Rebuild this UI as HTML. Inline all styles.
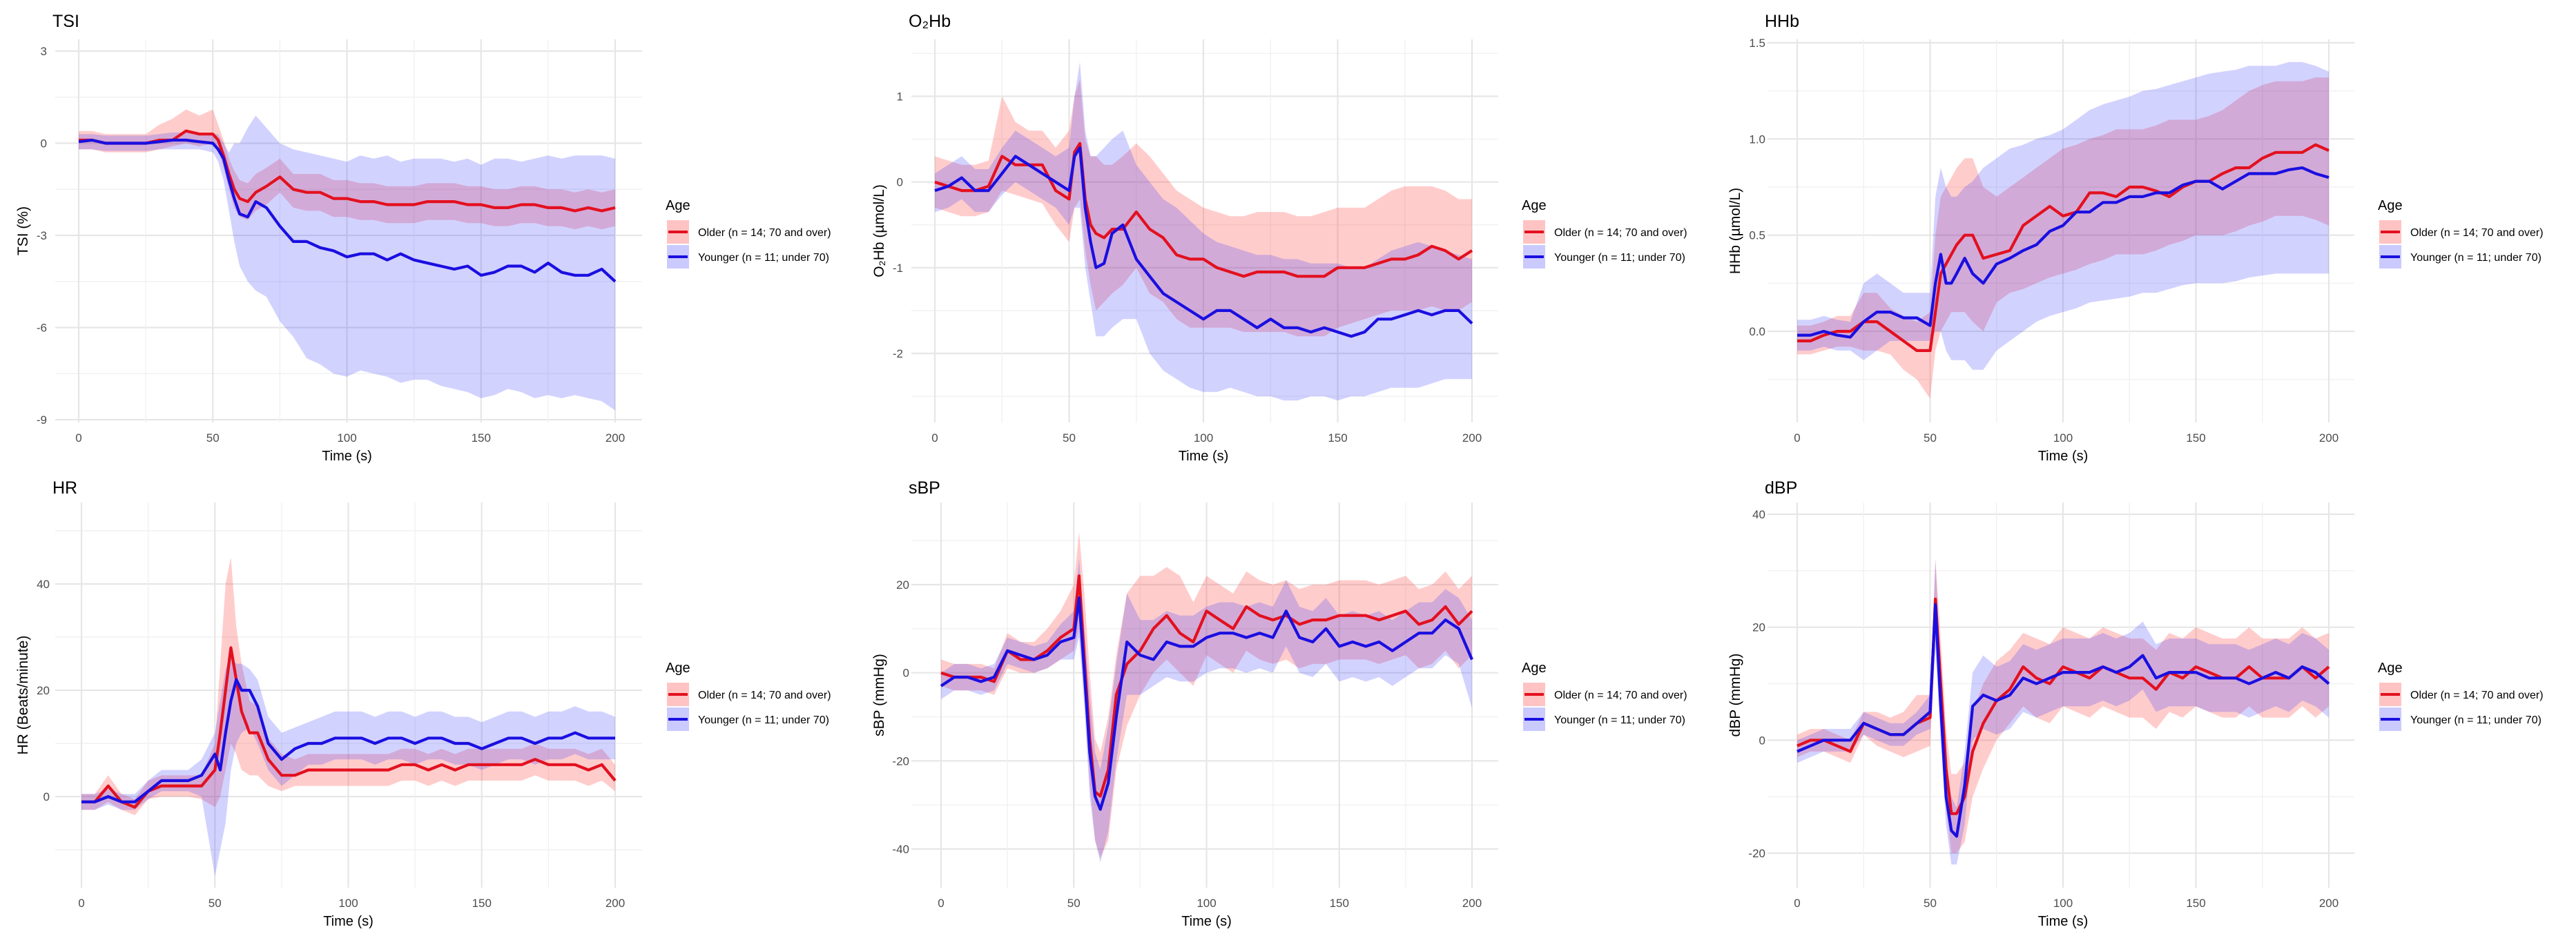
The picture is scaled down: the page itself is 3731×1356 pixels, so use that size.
<!DOCTYPE html>
<html><head><meta charset="utf-8"><style>
html,body{margin:0;padding:0;background:#fff;}
svg{display:block;font-family:"Liberation Sans",Arial,sans-serif;}
</style></head><body>
<svg id="chart" width="3731" height="1356" viewBox="0 0 3731 1356" xmlns="http://www.w3.org/2000/svg"></svg>
<script>
const times=[0,5,10,15,20,25,30,35,40,45,50,52,54,56,58,60,63,66,70,75,80,85,90,95,100,105,110,115,120,125,130,135,140,145,150,155,160,165,170,175,180,185,190,195,200];

const tsiOlderMean=[0.1,0.1,0,0,0,0,0.1,0.1,0.4,0.3,0.3,0.1,-0.4,-1.0,-1.5,-1.8,-1.9,-1.6,-1.4,-1.1,-1.5,-1.6,-1.6,-1.8,-1.8,-1.9,-1.9,-2.0,-2.0,-2.0,-1.9,-1.9,-1.9,-2.0,-2.0,-2.1,-2.1,-2.0,-2.0,-2.1,-2.1,-2.2,-2.1,-2.2,-2.1];
const tsiOlderLo=[-0.2,-0.2,-0.3,-0.3,-0.3,-0.3,-0.2,-0.1,0.0,-0.1,0.0,-0.2,-0.8,-1.5,-2.1,-2.4,-2.5,-2.2,-2.0,-1.6,-2.1,-2.2,-2.2,-2.4,-2.4,-2.5,-2.5,-2.6,-2.6,-2.6,-2.5,-2.5,-2.5,-2.6,-2.6,-2.7,-2.7,-2.6,-2.6,-2.7,-2.7,-2.8,-2.7,-2.8,-2.7];
const tsiOlderHi=[0.4,0.4,0.3,0.3,0.3,0.3,0.6,0.8,1.1,0.9,1.1,0.6,0.1,-0.5,-0.9,-1.2,-1.3,-1.0,-0.8,-0.5,-1.0,-1.0,-1.0,-1.2,-1.2,-1.3,-1.3,-1.4,-1.4,-1.4,-1.3,-1.3,-1.3,-1.4,-1.4,-1.5,-1.5,-1.4,-1.4,-1.5,-1.5,-1.6,-1.5,-1.6,-1.5];
const tsiYoungerMean=[0.05,0.1,0,0,0,0,0.05,0.1,0.1,0.05,0,-0.2,-0.5,-1.2,-1.8,-2.3,-2.4,-1.9,-2.1,-2.7,-3.2,-3.2,-3.4,-3.5,-3.7,-3.6,-3.6,-3.8,-3.6,-3.8,-3.9,-4.0,-4.1,-4.0,-4.3,-4.2,-4.0,-4.0,-4.2,-3.9,-4.2,-4.3,-4.3,-4.1,-4.5];
const tsiYoungerLo=[-0.2,-0.2,-0.25,-0.25,-0.25,-0.25,-0.2,-0.2,-0.2,-0.2,-0.3,-0.6,-1.2,-2.2,-3.2,-4.0,-4.5,-4.8,-5.0,-5.8,-6.3,-7.0,-7.2,-7.5,-7.6,-7.4,-7.5,-7.6,-7.8,-7.7,-7.7,-7.9,-8.0,-8.1,-8.3,-8.2,-8.0,-8.1,-8.3,-8.2,-8.3,-8.2,-8.3,-8.4,-8.7];
const tsiYoungerHi=[0.3,0.3,0.25,0.25,0.25,0.25,0.3,0.35,0.35,0.3,0.3,0.3,0.0,-0.3,0.0,0.0,0.5,0.9,0.5,0.0,-0.2,-0.3,-0.4,-0.5,-0.6,-0.4,-0.5,-0.4,-0.6,-0.5,-0.5,-0.5,-0.6,-0.5,-0.7,-0.5,-0.5,-0.6,-0.5,-0.4,-0.5,-0.4,-0.4,-0.4,-0.5];

const hrOlderMean=[-1,-1,2,-1,-2,1,2,2,2,2,5,12,20,28,22,16,12,12,7,4,4,5,5,5,5,5,5,5,6,6,5,6,5,6,6,6,6,6,7,6,6,6,5,6,3];
const hrOlderLo=[-2.5,-2.5,-1,-2.5,-3.5,-0.5,0,0,0,-0.5,-2,0,5,10,8,5,4,4,2,1,2,2,2,2,2,2,2,2,3,3,2,3,2,3,3,3,3,3,4,3,3,3,2,3,1];
const hrOlderHi=[0.5,0.5,4,0.5,-0.5,3,4,4,4,4,10,25,40,45,32,25,18,17,11,8,7,8,8,8,8,8,8,8,9,9,8,9,8,9,9,9,9,9,10,9,9,9,8,9,6];
const hrYoungerMean=[-1,-1,0,-1,-1,1,3,3,3,4,8,5,12,18,22,20,20,17,10,7,9,10,10,11,11,11,10,11,11,10,11,11,10,10,9,10,11,11,10,11,11,12,11,11,11];
const hrYoungerLo=[-2.5,-2.5,-1.5,-2.5,-2.5,-0.5,1,1,1,0,-15,-10,-5,5,10,12,13,10,5,2,4,6,6,7,7,7,6,7,7,6,7,7,6,6,5,6,7,7,6,7,7,8,7,7,7];
const hrYoungerHi=[0.5,0.5,1.5,0.5,0.5,3,5,5,5,7,12,18,24,26,25,25,24,22,15,12,13,14,15,16,16,16,15,16,16,15,16,16,15,15,14,15,16,16,15,16,16,17,16,16,15];

const o2OlderMean=[0,-0.05,-0.1,-0.1,-0.05,0.3,0.2,0.2,0.2,-0.1,-0.2,0.35,0.45,-0.2,-0.5,-0.6,-0.65,-0.55,-0.55,-0.35,-0.55,-0.65,-0.85,-0.9,-0.9,-1.0,-1.05,-1.1,-1.05,-1.05,-1.05,-1.1,-1.1,-1.1,-1.0,-1.0,-1.0,-0.95,-0.9,-0.9,-0.85,-0.75,-0.8,-0.9,-0.8];
const o2OlderLo=[-0.3,-0.35,-0.4,-0.4,-0.35,-0.1,-0.15,-0.2,-0.25,-0.5,-0.7,-0.3,-0.2,-0.8,-1.2,-1.5,-1.4,-1.3,-1.2,-1.0,-1.3,-1.4,-1.6,-1.7,-1.7,-1.7,-1.7,-1.75,-1.75,-1.75,-1.75,-1.8,-1.8,-1.8,-1.7,-1.65,-1.6,-1.55,-1.5,-1.5,-1.5,-1.45,-1.5,-1.5,-1.4];
const o2OlderHi=[0.3,0.25,0.2,0.2,0.25,1.0,0.7,0.6,0.6,0.4,0.6,1.0,1.2,0.5,0.3,0.3,0.2,0.2,0.3,0.45,0.3,0.1,-0.1,-0.2,-0.3,-0.35,-0.4,-0.4,-0.35,-0.35,-0.35,-0.4,-0.4,-0.35,-0.3,-0.3,-0.3,-0.2,-0.1,-0.05,-0.05,-0.05,-0.1,-0.2,-0.2];
const o2YoungerMean=[-0.1,-0.05,0.05,-0.1,-0.1,0.1,0.3,0.2,0.1,0.0,-0.1,0.3,0.4,-0.3,-0.7,-1.0,-0.95,-0.6,-0.5,-0.9,-1.1,-1.3,-1.4,-1.5,-1.6,-1.5,-1.5,-1.6,-1.7,-1.6,-1.7,-1.7,-1.75,-1.7,-1.75,-1.8,-1.75,-1.6,-1.6,-1.55,-1.5,-1.55,-1.5,-1.5,-1.65];
const o2YoungerLo=[-0.35,-0.3,-0.2,-0.35,-0.35,-0.15,0.0,-0.1,-0.2,-0.3,-0.5,-0.3,-0.3,-1.0,-1.4,-1.8,-1.8,-1.7,-1.6,-1.6,-2.0,-2.2,-2.3,-2.4,-2.45,-2.45,-2.4,-2.45,-2.5,-2.5,-2.55,-2.55,-2.5,-2.5,-2.55,-2.5,-2.5,-2.45,-2.4,-2.4,-2.4,-2.35,-2.3,-2.3,-2.3];
const o2YoungerHi=[0.1,0.2,0.3,0.15,0.15,0.4,0.6,0.5,0.4,0.3,0.4,1.0,1.4,0.6,0.3,0.3,0.4,0.5,0.6,0.2,0.0,-0.2,-0.3,-0.45,-0.6,-0.7,-0.75,-0.8,-0.85,-0.85,-0.9,-0.9,-0.95,-0.95,-0.95,-1.0,-1.0,-0.9,-0.8,-0.75,-0.7,-0.75,-0.8,-0.85,-0.9];

const hhbOlderMean=[-0.05,-0.05,-0.02,0,0,0.05,0.05,0,-0.05,-0.1,-0.1,0.1,0.3,0.35,0.4,0.45,0.5,0.5,0.38,0.4,0.42,0.55,0.6,0.65,0.6,0.62,0.72,0.72,0.7,0.75,0.75,0.73,0.7,0.75,0.78,0.78,0.82,0.85,0.85,0.9,0.93,0.93,0.93,0.97,0.94];
const hhbOlderLo=[-0.12,-0.12,-0.1,-0.08,-0.08,-0.1,-0.1,-0.12,-0.2,-0.25,-0.35,-0.1,0.0,0.05,0.1,0.1,0.1,0.05,0.0,0.15,0.2,0.22,0.25,0.28,0.3,0.32,0.35,0.37,0.4,0.4,0.4,0.42,0.45,0.47,0.5,0.5,0.5,0.52,0.55,0.57,0.6,0.6,0.6,0.58,0.55];
const hhbOlderHi=[0.03,0.03,0.05,0.08,0.08,0.2,0.2,0.12,0.08,0.05,0.1,0.5,0.7,0.75,0.8,0.85,0.9,0.9,0.75,0.7,0.75,0.8,0.85,0.9,0.95,0.97,1.0,1.02,1.05,1.05,1.05,1.07,1.1,1.1,1.1,1.12,1.15,1.2,1.25,1.28,1.3,1.3,1.3,1.32,1.32];
const hhbYoungerMean=[-0.02,-0.02,0,-0.02,-0.03,0.05,0.1,0.1,0.07,0.07,0.03,0.25,0.4,0.25,0.25,0.3,0.38,0.3,0.25,0.35,0.38,0.42,0.45,0.52,0.55,0.62,0.62,0.67,0.67,0.7,0.7,0.72,0.72,0.76,0.78,0.78,0.74,0.78,0.82,0.82,0.82,0.84,0.85,0.82,0.8];
const hhbYoungerLo=[-0.1,-0.1,-0.08,-0.1,-0.1,-0.15,-0.1,-0.05,-0.05,-0.05,-0.05,0.0,0.0,-0.1,-0.15,-0.15,-0.15,-0.2,-0.2,-0.1,-0.05,0.0,0.05,0.08,0.1,0.12,0.15,0.16,0.17,0.18,0.2,0.2,0.22,0.24,0.25,0.25,0.25,0.26,0.28,0.29,0.3,0.3,0.3,0.3,0.3];
const hhbYoungerHi=[0.06,0.06,0.08,0.06,0.05,0.25,0.3,0.25,0.2,0.2,0.2,0.7,0.85,0.75,0.7,0.7,0.75,0.78,0.85,0.9,0.95,0.97,1.0,1.02,1.05,1.1,1.15,1.18,1.2,1.22,1.25,1.26,1.28,1.3,1.32,1.34,1.35,1.36,1.38,1.38,1.38,1.4,1.4,1.38,1.35];

const sbpOlderMean=[0,-1,-1,-1,-2,5,3,3,5,8,10,22,3,-15,-27,-28,-22,-5,2,5,10,13,9,7,14,12,10,15,13,12,13,11,12,12,13,13,13,12,13,14,11,12,15,11,14];
const sbpOlderLo=[-3,-4,-4,-4,-5,1,0,0,1,3,5,10,-5,-25,-38,-42,-38,-22,-12,-5,0,3,0,-3,4,2,0,5,3,2,3,1,2,2,3,3,3,2,3,4,1,2,5,1,4];
const sbpOlderHi=[3,2,2,2,1,9,7,7,10,14,20,32,18,0,-15,-18,-10,4,18,22,22,24,22,16,22,20,18,23,21,20,21,19,20,20,21,21,21,20,21,22,19,20,23,19,22];
const sbpYoungerMean=[-3,-1,-1,-2,-1,5,4,3,4,7,8,17,0,-18,-28,-31,-25,-10,7,4,3,7,6,6,8,9,9,8,9,8,14,8,7,10,6,7,6,7,5,7,9,9,12,10,3];
const sbpYoungerLo=[-6,-4,-4,-5,-4,2,1,0,1,3,3,8,-8,-28,-38,-43,-36,-20,-5,-5,-3,-1,-2,-2,0,1,1,0,1,0,6,0,-1,2,-2,-1,-2,-1,-3,-1,1,1,4,2,-8];
const sbpYoungerHi=[0,2,2,1,2,8,7,6,7,11,14,26,10,-5,-18,-22,-12,2,18,12,12,14,13,13,15,16,16,15,16,15,21,15,14,17,13,14,13,14,12,14,16,16,19,17,12];

const dbpOlderMean=[-1,0,0,-1,-2,3,2,1,1,3,4,25,10,-5,-13,-13,-10,-2,3,7,9,13,11,10,13,12,11,13,12,11,11,9,12,11,13,12,11,11,13,11,11,11,13,11,13];
const dbpOlderLo=[-3,-2,-2,-3,-4,1,-1,-2,-3,-2,-1,18,2,-12,-20,-20,-18,-10,-5,0,3,6,4,3,6,5,4,6,5,4,4,2,5,4,6,5,4,4,6,4,4,4,6,4,6];
const dbpOlderHi=[1,2,2,1,0,5,5,4,5,8,8,32,18,2,-6,-6,-4,5,10,14,16,19,18,17,20,19,18,20,19,18,18,16,19,18,20,19,18,18,20,18,18,18,20,18,19];
const dbpYoungerMean=[-2,-1,0,0,0,3,2,1,1,3,5,24,6,-10,-16,-17,-8,6,8,7,8,11,10,11,12,12,12,13,12,13,15,11,12,12,12,11,11,11,10,11,12,11,13,12,10];
const dbpYoungerLo=[-4,-3,-2,-2,-2,1,0,-1,-1,1,2,16,0,-15,-22,-22,-15,0,2,1,2,5,4,5,6,6,6,7,6,7,9,5,6,6,6,5,5,5,4,5,6,5,7,6,4];
const dbpYoungerHi=[0,1,2,2,2,5,4,3,3,5,8,32,12,-4,-10,-12,-2,12,15,13,14,17,16,17,18,18,18,19,18,19,21,17,18,18,18,17,17,17,16,17,18,17,19,18,16];

const xTicks=[0,50,100,150,200];
const tsiTicks=[3,0,-3,-6,-9];
const hrTicks=[40,20,0];
const o2Ticks=[1,0,-1,-2];
const hhbTicks=[1.5,1.0,0.5,0.0];
const sbpTicks=[20,0,-20,-40];
const dbpTicks=[40,20,0,-20];
const legendLabels=["Older (n = 14; 70 and over)","Younger (n = 11; under 70)"];

const panels=[
 {key:"tsi",title:"TSI",ytitle:"TSI (%)",ox:0,oy:0,x0:114,x1:891,vA:3,pA:74,vB:-9,pB:608,top:57,bot:612,ticks:tsiTicks,minor:1.5,dec:0,
  om:tsiOlderMean,ol:tsiOlderLo,oh:tsiOlderHi,ym:tsiYoungerMean,yl:tsiYoungerLo,yh:tsiYoungerHi},
 {key:"o2hb",title:"O₂Hb",ytitle:"O₂Hb (µmol/L)",ox:1240,oy:0,x0:1354,x1:2132,vA:1,pA:139.5,vB:-2,pB:512,top:57,bot:612,ticks:o2Ticks,minor:0.5,dec:0,
  om:o2OlderMean,ol:o2OlderLo,oh:o2OlderHi,ym:o2YoungerMean,yl:o2YoungerLo,yh:o2YoungerHi},
 {key:"hhb",title:"HHb",ytitle:"HHb (µmol/L)",ox:2480,oy:0,x0:2603,x1:3373,vA:1.5,pA:62,vB:0,pB:480,top:57,bot:612,ticks:hhbTicks,minor:0.25,dec:1,
  om:hhbOlderMean,ol:hhbOlderLo,oh:hhbOlderHi,ym:hhbYoungerMean,yl:hhbYoungerLo,yh:hhbYoungerHi},
 {key:"hr",title:"HR",ytitle:"HR (Beats/minute)",ox:0,oy:676,x0:118,x1:891,vA:40,pA:846,vB:0,pB:1154,top:728,bot:1286,ticks:hrTicks,minor:10,dec:0,
  om:hrOlderMean,ol:hrOlderLo,oh:hrOlderHi,ym:hrYoungerMean,yl:hrYoungerLo,yh:hrYoungerHi},
 {key:"sbp",title:"sBP",ytitle:"sBP (mmHg)",ox:1240,oy:676,x0:1363,x1:2132,vA:20,pA:847,vB:-40,pB:1230,top:728,bot:1286,ticks:sbpTicks,minor:10,dec:0,
  om:sbpOlderMean,ol:sbpOlderLo,oh:sbpOlderHi,ym:sbpYoungerMean,yl:sbpYoungerLo,yh:sbpYoungerHi},
 {key:"dbp",title:"dBP",ytitle:"dBP (mmHg)",ox:2480,oy:676,x0:2603,x1:3373,vA:40,pA:745,vB:-20,pB:1236,top:728,bot:1286,ticks:dbpTicks,minor:10,dec:0,
  om:dbpOlderMean,ol:dbpOlderLo,oh:dbpOlderHi,ym:dbpYoungerMean,yl:dbpYoungerLo,yh:dbpYoungerHi}
];

const NS="http://www.w3.org/2000/svg";
const svg=document.getElementById("chart");
function mk(tag,attrs,parent){const e=document.createElementNS(NS,tag);for(const k in attrs)e.setAttribute(k,attrs[k]);(parent||svg).appendChild(e);return e;}

panels.forEach(p=>{
  const g=mk("g",{});
  
  
  const xs=t=>p.x0+(t/200)*(p.x1-p.x0);
  const ys=v=>p.pA+(v-p.vA)*(p.pB-p.pA)/(p.vB-p.vA);
  const gl=p.ox+80, gr=p.ox+930;
  // horizontal grid
  const vTop=p.vA+(p.pA-p.top)*(p.vA-p.vB)/(p.pB-p.pA);
  const vBot=p.vB-(p.bot-p.pB)*(p.vA-p.vB)/(p.pB-p.pA);
  const start=Math.ceil(vBot/p.minor-1e-9)*p.minor;
  for(let v=start; v<=vTop+1e-9; v+=p.minor){
    const isMajor=p.ticks.some(t=>Math.abs(t-v)<1e-6);
    const l=mk("line",{x1:gl,x2:gr,y1:ys(v),y2:ys(v),stroke:isMajor?"#e6e6e6":"#f1f1f1","stroke-width":isMajor?2.2:1.4},g);
    
    
  }
  for(let t=0;t<=200;t+=25){
    const major=t%50===0;
    const l=mk("line",{x1:xs(t),x2:xs(t),y1:p.top,y2:p.bot,stroke:major?"#e6e6e6":"#f1f1f1","stroke-width":major?2.2:1.4},g);
    
    
  }
  // bands
  function band(lo,hi,col,name){
    let d="M"+times.map((t,i)=>xs(t).toFixed(1)+","+ys(hi[i]).toFixed(1)).join("L");
    for(let i=times.length-1;i>=0;i--) d+="L"+xs(times[i]).toFixed(1)+","+ys(lo[i]).toFixed(1);
    const e=mk("path",{d:d+"Z",fill:col},g);
    
    
  }
  band(p.ol,p.oh,"rgba(255,40,40,0.24)","older-ci-band");
  band(p.yl,p.yh,"rgba(50,50,255,0.22)","younger-ci-band");
  function line(m,col,name){
    const d="M"+times.map((t,i)=>xs(t).toFixed(1)+","+ys(m[i]).toFixed(1)).join("L");
    const e=mk("path",{d:d,fill:"none",stroke:col,"stroke-width":4.2,"stroke-linejoin":"round"},g);
    
    
  }
  line(p.om,"#e3101f","older-mean-line");
  line(p.ym,"#1a0fe0","younger-mean-line");
  // y tick labels
  p.ticks.forEach(v=>{
    const tx=mk("text",{x:p.x0-46,y:ys(v)+6,"text-anchor":"end","font-size":17,fill:"#4d4d4d"},g);
    tx.textContent=p.dec?v.toFixed(p.dec):String(v);
    
    
  });
  xTicks.forEach(t=>{
    const tx=mk("text",{x:xs(t),y:p.bot+28,"text-anchor":"middle","font-size":17,fill:"#4d4d4d"},g);
    tx.textContent=String(t);
    
    
  });
  const xt=mk("text",{x:(p.x0+p.x1)/2,y:p.bot+55,"text-anchor":"middle","font-size":20,fill:"#000"},g);
  xt.textContent="Time (s)";
  
  
  const ymid=(p.top+p.bot)/2;
  const yt=mk("text",{x:0,y:0,transform:`translate(${p.ox+40},${ymid}) rotate(-90)`,"text-anchor":"middle","font-size":21,fill:"#000"},g);
  yt.textContent=p.ytitle;
  
  
  const ti=mk("text",{x:p.ox+76,y:p.oy+39,"font-size":25,fill:"#000"},g);
  ti.textContent=p.title;
  
  
  // legend
  const lg=mk("g",{},g);
  
  
  const ly=p.oy===0?296:290+676;
  const at=mk("text",{x:p.ox+964,y:ly+8,"font-size":20,fill:"#000"},lg);
  at.textContent="Age";
  
  
  const cols=[["rgba(255,40,40,0.28)","#e3101f"],["rgba(50,50,255,0.26)","#1a0fe0"]];
  legendLabels.forEach((lab,i)=>{
    const cy=ly+40+i*36;
    const e=mk("g",{},lg);
    
    
    mk("rect",{x:p.ox+966,y:cy-17,width:32,height:34,fill:cols[i][0]},e);
    mk("line",{x1:p.ox+968,x2:p.ox+996,y1:cy,y2:cy,stroke:cols[i][1],"stroke-width":4},e);
    const tx=mk("text",{x:p.ox+1011,y:cy+6,"font-size":16,fill:"#000"},e);
    tx.textContent=lab;
  });
});
</script>
</body></html>
